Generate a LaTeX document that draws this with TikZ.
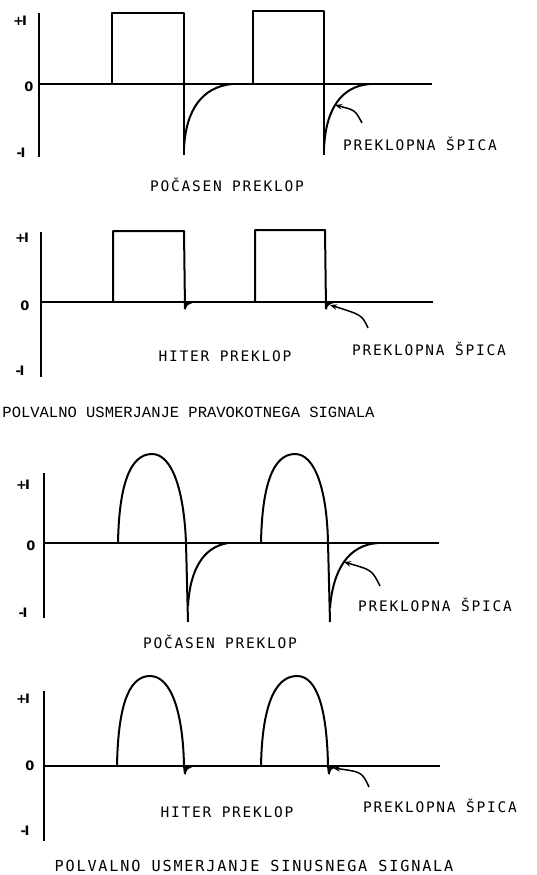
\documentclass[tikz,border=0pt]{standalone}
\usepackage{fontspec}
\usetikzlibrary{arrows.meta}
\newfontfamily\lblfont[LetterSpace=12]{DejaVu Sans Mono}
\newfontfamily\ttlfont{Liberation Mono}
\newfontfamily\axfont{DejaVu Sans}
\tikzset{
  axisline/.style={line width=1.6pt},
  zeroline/.style={line width=1.3pt},
  wave/.style={line width=2pt, line join=round},
  pointer/.style={line width=1.5pt, -{Stealth[length=7pt,width=5.5pt]}},
  lbl/.style={font=\lblfont\fontsize{14.5}{16}\selectfont, anchor=base, inner sep=0pt},
  bigttl/.style={font=\lblfont\fontsize{15.2}{17}\selectfont, anchor=base, inner sep=0pt},
  typettl/.style={font=\ttlfont\fontsize{15.5}{17}\selectfont, anchor=base, inner sep=0pt},
  ax/.style={font=\axfont\bfseries\fontsize{13}{14}\selectfont, inner sep=0pt}
}
\begin{document}
\begin{tikzpicture}[x=1pt,y=-1pt]
\fill[white] (0,0) rectangle (536,875);
\useasboundingbox (0,0) rectangle (536,875);

% ---------- Panel 1 ----------
\node[ax] (p1plus) at (20,21) {+\kern-2pt I};
\node[ax] (p1zero) at (29,87) {0};
\node[ax] (p1minus) at (21,153) {-\kern-1.5pt I};
\draw[axisline] (39,13) -- (39,157);
\draw[zeroline] (39,84) -- (432,84);
\draw[wave] (112,84) |- (184,13) -- (184,155);
\draw[wave] (184,148) .. controls (186,110) and (202,87) .. (232,84);
\draw[wave] (253,84) |- (324,11) -- (324,155);
\draw[wave] (324,148) .. controls (326,108) and (342,86) .. (370,84) coordinate[pos=0.45] (p1tip);
\coordinate (p1tail) at (362,123);
\draw[pointer] (p1tail) .. controls (355,110) .. (p1tip);
\node[lbl] (p1spica) at (420,150) {PREKLOPNA ŠPICA};
\node[lbl] (p1title) at (227,191) {POČASEN PREKLOP};

% ---------- Panel 2 ----------
\node[ax] (p2plus) at (22,238) {+\kern-2pt I};
\node[ax] (p2zero) at (25,306) {0};
\node[ax] (p2minus) at (20,371) {-\kern-1.5pt I};
\draw[axisline] (41,232) -- (41,377);
\draw[zeroline] (41,302) -- (433,302);
\draw[wave] (113,302) |- (184,231) -- (185,309);
\fill (183.5,302) -- (185.5,310) .. controls (187,305) .. (194,302.5) -- cycle;
\draw[wave] (255,302) |- (325,230) -- (326,309);
\fill (324.5,302) -- (326.5,310) .. controls (328,305) .. (335,302.5) -- cycle;
\coordinate (p2tip) at (330,305);
\coordinate (p2tail) at (368,328);
\draw[pointer] (p2tail) .. controls (362,315) .. (p2tip);
\node[lbl] (p2hiter) at (225,361) {HITER PREKLOP};
\node[lbl] (p2spica) at (429,355) {PREKLOPNA ŠPICA};
\node[typettl] (p2title) at (188.5,417) {POLVALNO USMERJANJE PRAVOKOTNEGA SIGNALA};

% ---------- Panel 3 ----------
\node[ax] (p3plus) at (23,485) {+\kern-2pt I};
\node[ax] (p3zero) at (31,546) {0};
\node[ax] (p3minus) at (23,613) {-\kern-1.5pt I};
\draw[axisline] (44,473) -- (44,618);
\draw[zeroline] (44,543) -- (439,543);
\draw[wave] (118,543) .. controls (119,488) and (129,454) .. (152,454)
  .. controls (172,454) and (184,490) .. (186,543) -- (188,622);
\draw[wave] (188,606) .. controls (190,570) and (203,547) .. (228,543);
\draw[wave] (261,543) .. controls (262,488) and (272,454) .. (295,454)
  .. controls (315,454) and (327,490) .. (328,543) -- (330,622);
\draw[wave] (330,608) .. controls (333,570) and (348,545) .. (378,543) coordinate[pos=0.5] (p3tip);
\coordinate (p3tail) at (380,586);
\draw[pointer] (p3tail) .. controls (372,570) .. (p3tip);
\node[lbl] (p3spica) at (435,611) {PREKLOPNA ŠPICA};
\node[lbl] (p3title) at (220,648) {POČASEN PREKLOP};

% ---------- Panel 4 ----------
\node[ax] (p4plus) at (23,699) {+\kern-2pt I};
\node[ax] (p4zero) at (30,766) {0};
\node[ax] (p4minus) at (25,831) {-\kern-1.5pt I};
\draw[axisline] (44,691) -- (44,841);
\draw[zeroline] (44,766) -- (440,766);
\draw[wave] (117,766) .. controls (118,711) and (127,676) .. (150,676)
  .. controls (171,676) and (183,712) .. (184,766) -- (185,774);
\fill (183.5,766) -- (185.5,775) .. controls (187,769) .. (194,766.5) -- cycle;
\draw[wave] (261,766) .. controls (262,711) and (273,676) .. (297,676)
  .. controls (318,676) and (327,712) .. (328,766) -- (329,774);
\fill (327.5,766) -- (329.5,775) .. controls (331,769) .. (338,766.5) -- cycle;
\coordinate (p4tip) at (333,768);
\coordinate (p4tail) at (369,787);
\draw[pointer] (p4tail) .. controls (362,772) .. (p4tip);
\node[lbl] (p4hiter) at (227,817) {HITER PREKLOP};
\node[lbl] (p4spica) at (440,812) {PREKLOPNA ŠPICA};
\node[bigttl] (p4title) at (254,871) {POLVALNO USMERJANJE SINUSNEGA SIGNALA};
\end{tikzpicture}
\end{document}
